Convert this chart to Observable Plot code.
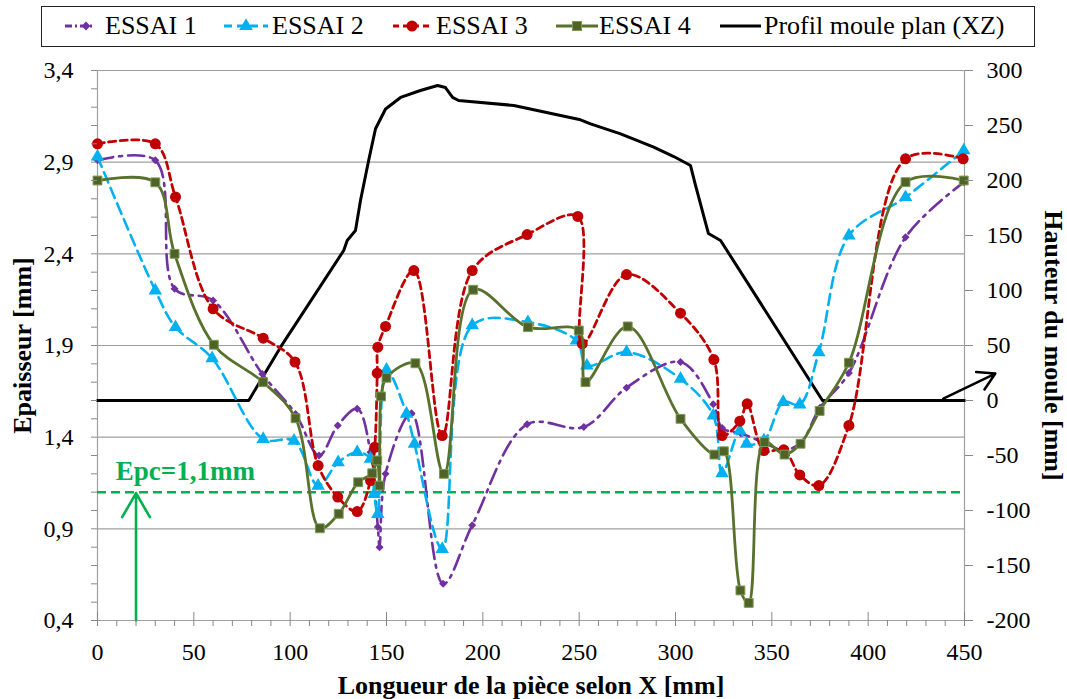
<!DOCTYPE html>
<html>
<head>
<meta charset="utf-8">
<script src="https://cdn.jsdelivr.net/npm/d3@7"></script>
<script src="https://cdn.jsdelivr.net/npm/@observablehq/plot@0.6"></script>
<style>
  html, body { margin: 0; padding: 0; background: #fff; }
  body { width: 1067px; height: 699px; overflow: hidden; font-family: "Liberation Serif", "Times New Roman", serif; }
  #legend { position: relative; width: 1067px; height: 52px; }
  #legend .box { position: absolute; left: 41px; top: 6px; width: 994px; height: 41px; border: 1px solid #222; box-sizing: border-box; }
  #legend .lbl { position: absolute; top: 12px; font-size: 26px; line-height: 28px; color: #000; white-space: nowrap; }
  #legend svg { position: absolute; top: 16px; overflow: visible; }
</style>
</head>
<body>
<div id="legend"><div class="box"></div></div>
<div id="chart"></div>
<script>
// ---------- data ----------
const seriesNames = ["ESSAI 1", "ESSAI 2", "ESSAI 3", "ESSAI 4"];
const profileName = "Profil moule plan (XZ)";

// ESSAI 1 (épaisseur, mm)
const x1 = [0, 30, 40, 60, 85.5, 102.8, 115, 124.7, 134.8, 141.7, 145.5, 146.4, 149.5, 163, 179.4, 194.5, 223, 252.4, 274.6, 302.6, 319.6, 324.2, 334, 346, 356, 365, 375, 390, 419.4, 449.6];
const y1 = [2.91, 2.91, 2.21, 2.145, 1.745, 1.527, 1.30, 1.464, 1.555, 1.318, 0.91, 0.80, 1.20, 1.53, 0.60, 0.92, 1.47, 1.455, 1.67, 1.81, 1.58, 1.45, 1.42, 1.37, 1.33, 1.37, 1.56, 1.75, 2.49, 2.79];

// ESSAI 2
const x2 = [0, 30, 40.5, 59.5, 86, 102, 114.5, 124.9, 134.8, 141.7, 143.6, 145.5, 150, 160.4, 164.5, 178.9, 194.5, 223.4, 248.6, 254, 274.6, 302.6, 319.6, 324.2, 333.4, 336.9, 345.9, 355.9, 364.5, 374.4, 390, 419.4, 449.6];
const y2 = [2.93, 2.2, 2.0, 1.83, 1.39, 1.38, 1.135, 1.263, 1.318, 1.282, 1.09, 0.98, 1.767, 1.527, 1.364, 0.79, 2.01, 2.027, 1.927, 1.79, 1.864, 1.718, 1.518, 1.203, 1.436, 1.364, 1.382, 1.591, 1.578, 1.863, 2.50, 2.709, 2.964];

// ESSAI 3
const x3 = [0, 30, 40.5, 60, 86, 102.5, 114.5, 124.7, 134.8, 141.7, 143.9, 145.2, 145.5, 149.5, 164.2, 178.9, 194.5, 223, 249.3, 251.6, 274.6, 302.6, 319.9, 324.2, 333.4, 337.2, 345.9, 356.2, 364.5, 374.4, 390, 419.4, 449.3];
const y3 = [3.0, 3.0, 2.71, 2.10, 1.94, 1.81, 1.245, 1.073, 0.994, 1.163, 1.345, 1.749, 1.891, 2.004, 2.309, 1.409, 2.309, 2.505, 2.604, 1.909, 2.287, 2.076, 1.823, 1.409, 1.487, 1.582, 1.327, 1.331, 1.194, 1.136, 1.464, 2.918, 2.918];

// ESSAI 4
const x4 = [0, 30, 40, 60.4, 86, 102.8, 115.4, 125.2, 135.3, 142.6, 145.2, 146.4, 147.2, 150, 165, 179.8, 195, 223.4, 249.8, 253.3, 275.2, 302.6, 320.2, 325.1, 333.7, 338, 346.2, 356.6, 364.9, 374.8, 390, 419.4, 449.6];
const y4 = [2.80, 2.79, 2.40, 1.904, 1.70, 1.503, 0.903, 0.982, 1.154, 1.203, 1.273, 1.136, 1.622, 1.724, 1.803, 1.20, 2.204, 2.0, 1.982, 1.70, 2.004, 1.50, 1.305, 1.323, 0.564, 0.496, 1.373, 1.305, 1.364, 1.543, 1.806, 2.791, 2.80];

// Profil moule (hauteur, mm — axe de droite)
const xp = [0, 78.5, 95, 127.8, 129.6, 133.9, 136.5, 140.7, 144.3, 149.5, 157.3, 167.6, 176.5, 180.6, 184.3, 187.4, 191.8, 216.1, 250.7, 255.9, 271.5, 288.7, 299.1, 307.8, 310.4, 317.1, 323.4, 376.3, 450];
const hp = [0, 0, 48.5, 136.4, 145.5, 154.5, 181.8, 218, 247, 265, 275.5, 281.8, 286.4, 284.5, 275.5, 272.7, 272.1, 268.2, 255.2, 251.5, 242.4, 230.3, 221.8, 213.6, 195.5, 151.8, 145.5, 0, 0];

// Annotations
const epcValue = 1.1;
const epcLabel = "Epc=1,1mm";
const epcArrowX = 20;
const blackArrowFrom = {x: 439, h: 1.8};
const blackArrowTo = {x: 466, h: 24.5};

// Tick values
const leftTicks = [0.4, 0.9, 1.4, 1.9, 2.4, 2.9, 3.4];
const rightTicks = [-200, -150, -100, -50, 0, 50, 100, 150, 200, 250, 300];
const xTicks = [0, 50, 100, 150, 200, 250, 300, 350, 400, 450];

// ---------- helpers ----------
// secondary axis: -200..300 mapped onto 0.4..3.4
const H2L = h => 1.6 + h * 0.006;
const L2H = v => Math.round((v - 1.6) / 0.006);
const rows = (xs, ys) => xs.map((x, i) => ({x, y: ys[i]}));
const fmtL = d => d.toFixed(1).replace(".", ",");

const C = {
  purple: "#7030A0", blue: "#00B0F0", red: "#C00000",
  green: "#58722E", greenMark: "#4F6228", epc: "#00B050", grid: "#A0A0A0"
};

const s1 = rows(x1, y1), s2 = rows(x2, y2), s3 = rows(x3, y3), s4 = rows(x4, y4);
const prof = xp.map((x, i) => ({x, y: H2L(hp[i])}));
const minorY = d3.range(4, 35).map(d => d / 10);
const minorX = d3.range(0, 451, 10);

const chart = Plot.plot({
  width: 1067,
  height: 647,
  marginTop: 18,
  marginBottom: 79,
  marginLeft: 97,
  marginRight: 103,
  x: {domain: [0, 450]},
  y: {domain: [0.4, 3.4]},
  style: {fontFamily: "'Liberation Serif', 'Times New Roman', serif", fontSize: "24px", color: "#000", background: "#fff", overflow: "visible"},
  marks: [
    Plot.gridY(leftTicks, {stroke: C.grid, strokeOpacity: 1, strokeWidth: 1.2}),
    Plot.ruleX([0, 450], {stroke: C.grid, strokeWidth: 1.2}),
    Plot.ruleY([0.4], {stroke: C.grid, strokeWidth: 1.2}),
    // Epc line
    Plot.ruleY([epcValue], {x1: 0, x2: 450, stroke: C.epc, strokeWidth: 2.5, strokeDasharray: "9,5"}),
    // mould profile
    Plot.line(prof, {x: "x", y: "y", stroke: "#000", strokeWidth: 3, curve: "linear"}),
    // ESSAI 1
    Plot.line(s1, {x: "x", y: "y", stroke: C.purple, strokeWidth: 2.6, strokeDasharray: "16,6,3,6", curve: "catmull-rom"}),
    Plot.dot(s1, {x: "x", y: "y", symbol: "diamond2", r: 3.6, fill: C.purple, stroke: "none"}),
    // ESSAI 2
    Plot.line(s2, {x: "x", y: "y", stroke: C.blue, strokeWidth: 2.6, strokeDasharray: "11,6", curve: "catmull-rom"}),
    Plot.dot(s2, {x: "x", y: "y", symbol: "triangle", r: 5, fill: C.blue, stroke: "none"}),
    // ESSAI 3
    Plot.line(s3, {x: "x", y: "y", stroke: C.red, strokeWidth: 2.8, strokeDasharray: "7,4.5", curve: "catmull-rom"}),
    Plot.dot(s3, {x: "x", y: "y", symbol: "circle", r: 5.5, fill: C.red, stroke: "none"}),
    // ESSAI 4
    Plot.line(s4, {x: "x", y: "y", stroke: C.green, strokeWidth: 2.8, curve: "catmull-rom"}),
    Plot.dot(s4, {x: "x", y: "y", symbol: "square", r: 5, fill: C.greenMark, stroke: "#7D9A55", strokeWidth: 1}),
    // annotations
    Plot.text([epcLabel], {x: 9.5, y: epcValue, text: d => d, textAnchor: "start", lineAnchor: "middle", dy: -21, fill: C.epc, fontWeight: "bold", fontSize: 27}),
    Plot.arrow([{x: epcArrowX}], {x1: "x", x2: "x", y1: 0.4, y2: epcValue, stroke: C.epc, strokeWidth: 2.6, headLength: 16, insetEnd: 1}),
    Plot.arrow([{x1: blackArrowFrom.x, y1: H2L(blackArrowFrom.h), x2: blackArrowTo.x, y2: H2L(blackArrowTo.h)}],
      {x1: "x1", y1: "y1", x2: "x2", y2: "y2", stroke: "#000", strokeWidth: 2.5, headLength: 14}),
    // left axis
    Plot.axisY(minorY, {tickSize: 6, tickFormat: () => "", stroke: "#888"}),
    Plot.axisY(leftTicks, {tickSize: 0, tickPadding: 24, tickFormat: fmtL, label: null}),
    // right axis
    Plot.axisY(rightTicks.map(H2L), {anchor: "right", tickSize: 8, tickPadding: 14, stroke: "#888", tickFormat: d => String(L2H(d)), label: null}),
    // x axis
    Plot.axisX(minorX, {tickSize: 6, tickFormat: () => "", stroke: "#888", label: null}),
    Plot.axisX(xTicks, {tickSize: -8, tickFormat: () => "", stroke: "#888", label: null}),
    Plot.axisX(xTicks, {tickSize: 0, tickPadding: 22, label: null}),
    // axis titles
    Plot.text(["Epaisseur [mm]"], {frameAnchor: "left", dx: -75, rotate: -90, text: d => d, textAnchor: "middle", lineAnchor: "middle", fontWeight: "bold", fontSize: 26}),
    Plot.text(["Hauteur du moule [mm]"], {frameAnchor: "right", dx: 89, rotate: 90, text: d => d, textAnchor: "middle", lineAnchor: "middle", fontWeight: "bold", fontSize: 26}),
    Plot.text(["Longueur de la pièce selon X [mm]"], {frameAnchor: "bottom", dy: 65, text: d => d, textAnchor: "middle", lineAnchor: "middle", fontWeight: "bold", fontSize: 26})
  ]
});
document.getElementById("chart").appendChild(chart);

// ---------- legend ----------
const legendSpec = [
  {name: seriesNames[0], color: C.purple, dash: "7,3,2,3", sym: "diamond", sx: 65, sw: 27, tx: 105},
  {name: seriesNames[1], color: C.blue, dash: "8,5", sym: "triangle", sx: 224, sw: 44, tx: 272},
  {name: seriesNames[2], color: C.red, dash: "6,4", sym: "circle", sx: 393, sw: 38, tx: 436},
  {name: seriesNames[3], color: C.green, dash: null, sym: "square", sx: 556, sw: 42, tx: 599},
  {name: profileName, color: "#000", dash: null, sym: null, sx: 720, sw: 41, tx: 764}
];
const leg = d3.select("#legend");
for (const it of legendSpec) {
  const svg = leg.append("svg").attr("width", it.sw).attr("height", 20).style("left", it.sx + "px");
  svg.append("line").attr("x1", 0).attr("x2", it.sw).attr("y1", 10).attr("y2", 10)
    .attr("stroke", it.color).attr("stroke-width", 3).attr("stroke-dasharray", it.dash);
  const cx = it.sym === "diamond" ? it.sw - 6 : it.sw / 2;
  if (it.sym === "circle") svg.append("circle").attr("cx", cx).attr("cy", 10).attr("r", 5.5).attr("fill", it.color);
  if (it.sym === "square") svg.append("rect").attr("x", cx - 4.5).attr("y", 5.5).attr("width", 9).attr("height", 9).attr("fill", C.greenMark).attr("stroke", "#7D9A55");
  if (it.sym === "triangle") svg.append("path").attr("d", d3.symbol(d3.symbolTriangle, 80)()).attr("transform", `translate(${cx},10)`).attr("fill", it.color);
  if (it.sym === "diamond") svg.append("path").attr("d", d3.symbol(d3.symbolDiamond2, 50)()).attr("transform", `translate(${cx},10)`).attr("fill", it.color);
  leg.append("div").attr("class", "lbl").style("left", it.tx + "px").text(it.name);
}
</script>
</body>
</html>
